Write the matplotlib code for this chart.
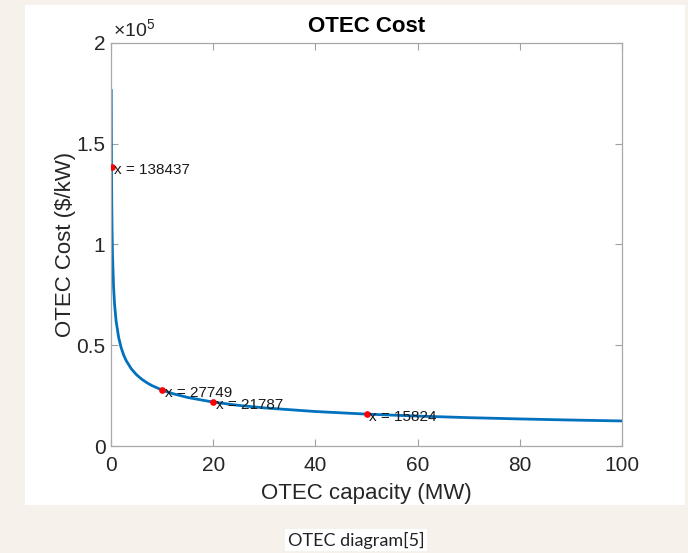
import matplotlib.pyplot as plt
from matplotlib.patches import Rectangle
from matplotlib.ticker import FuncFormatter

plt.rcParams['font.family'] = ['Liberation Sans', 'DejaVu Sans']
plt.rcParams['mathtext.fontset'] = 'custom'
plt.rcParams['mathtext.rm'] = 'Liberation Sans'

# curve: capacity (MW) vs cost ($/kW)
capacity = [0.05, 0.07, 0.1, 0.15, 0.2, 0.3, 0.5, 0.7, 1, 1.5, 2, 2.5, 3, 4, 5,
            6, 7, 8, 10, 12, 15, 20, 25, 30, 40, 50, 60, 70, 80, 90, 100]
cost = [176400, 156800, 138460, 120200, 108700, 94360, 78960, 70210, 61990,
        53810, 48670, 45000, 42250, 38210, 35350, 33170, 31450, 30000, 27749,
        26040, 24090, 21787, 20160, 18910, 17110, 15824, 14850, 14070, 13430,
        12890, 12430]

# data tips
tip_x = [0.1, 10, 20, 50]
tip_y = [138437, 27749, 21787, 15824]

W, H = 688, 553
fig = plt.figure(figsize=(W / 100, H / 100), dpi=100, facecolor='#f6f1eb')

# white panel behind the chart
fig.patches.append(Rectangle((25 / W, (H - 505) / H), 660 / W, 500 / H,
                             transform=fig.transFigure, facecolor='white',
                             edgecolor='none', zorder=-10))

ax = fig.add_axes([111 / W, (H - 446) / H, 511 / W, 403 / H])
ax.plot(capacity, cost, color='#0072BD', lw=2, zorder=2)
ax.plot(tip_x, tip_y, 'o', color='red', ms=3.8, zorder=3)
for tx, ty in zip(tip_x, tip_y):
    ax.annotate(f'x = {ty}', (tx, ty), xytext=(2, -2), textcoords='offset points',
                ha='left', va='center', fontsize=11, color='#1a1a1a', zorder=4)

ax.set_xlim(0, 100)
ax.set_ylim(0, 2e5)
ax.set_xticks([0, 20, 40, 60, 80, 100])
ax.set_yticks([0, 0.5e5, 1e5, 1.5e5, 2e5])
ax.yaxis.set_major_formatter(FuncFormatter(lambda v, p: f'{v / 1e5:g}'))
ax.tick_params(direction='in', top=True, right=True, length=5, width=0.8,
               color='#a0a0a0', labelsize=15, labelcolor='#262626')
ax.tick_params(axis='x', pad=7)
ax.tick_params(axis='y', pad=4)
for s in ax.spines.values():
    s.set_color('#a8a8a8')
    s.set_linewidth(0.9)

ax.set_title('OTEC Cost', fontsize=16, fontweight='bold', pad=8, color='black')
ax.set_xlabel('OTEC capacity (MW)', fontsize=16, color='#262626', labelpad=6)
ax.set_ylabel('OTEC Cost ($/kW)', fontsize=16, color='#262626', labelpad=0)
ax.text(0.004, 1.004, r'$\times10^{5}$', transform=ax.transAxes, fontsize=14,
        color='#262626', ha='left', va='bottom')

fig.text(356 / W, (H - 540) / H, 'OTEC diagram[5]', fontsize=13,
         family=['Lato', 'DejaVu Sans'], ha='center', va='center', color='#222222',
         bbox=dict(facecolor='white', edgecolor='none', pad=2))

fig.savefig('out.png', dpi=100, facecolor=fig.get_facecolor())
